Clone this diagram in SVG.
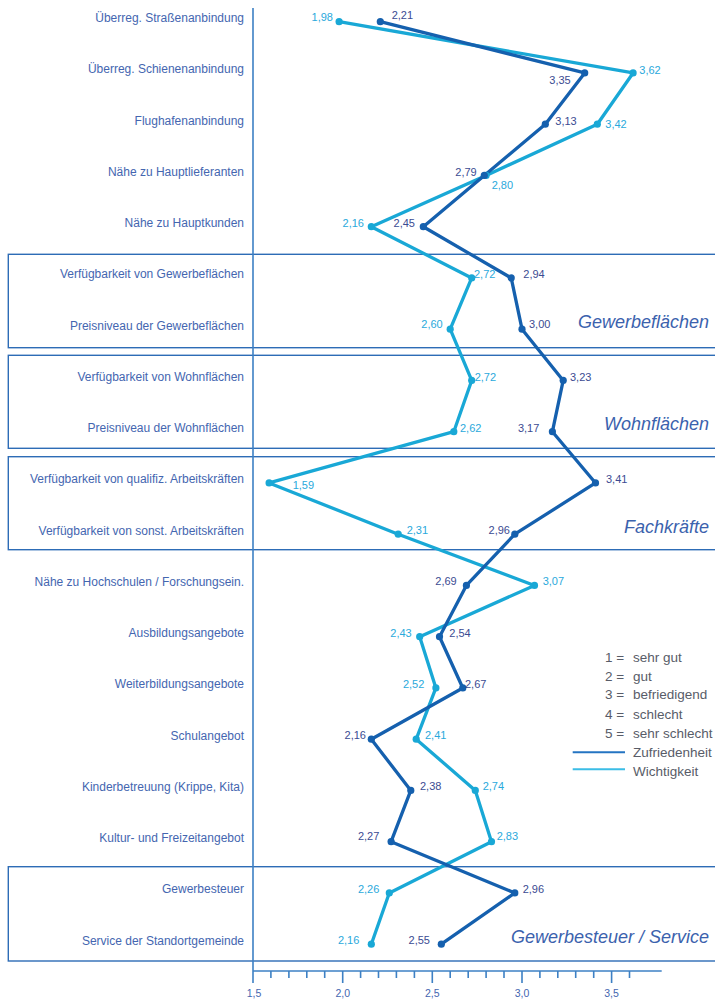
<svg xmlns="http://www.w3.org/2000/svg" width="715" height="1000" viewBox="0 0 715 1000">
<style>
.lbl{font-family:"Liberation Sans",Arial,sans-serif;font-size:12px;fill:#4466b0;text-anchor:end}
.zv{font-family:"Liberation Sans",Arial,sans-serif;font-size:11px;fill:#3b4b92}
.wv{font-family:"Liberation Sans",Arial,sans-serif;font-size:11px;fill:#2aa9dc}
.e{text-anchor:end}
.grp{font-family:"Liberation Sans",Arial,sans-serif;font-size:18px;font-style:italic;fill:#3b62ad;text-anchor:end}
.box{fill:none;stroke:#2d6cb6;stroke-width:1.4}
.leg{font-family:"Liberation Sans",Arial,sans-serif;font-size:13.5px;fill:#585c68}
.tick{font-family:"Liberation Sans",Arial,sans-serif;font-size:10.5px;fill:#4466b0;text-anchor:middle}
.zl{fill:none;stroke:#1560ae;stroke-width:3.3;stroke-linejoin:round}
.wl{fill:none;stroke:#19a8d6;stroke-width:3.3;stroke-linejoin:round}
.zd{fill:#1560ae}
.wd{fill:#19a8d6}
.ax{stroke:#3d80c4;stroke-width:1.6;fill:none}
</style>

<g id="group-boxes">
<rect class="box" x="8.3" y="254.3" width="720" height="93.4"/>
<rect class="box" x="8.3" y="355.3" width="720" height="93"/>
<rect class="box" x="8.3" y="456.7" width="720" height="93"/>
<rect class="box" x="8.3" y="866.7" width="720" height="94.3"/>
</g>

<g id="group-titles">
<text class="grp" x="709" y="328.3">Gewerbeflächen</text>
<text class="grp" x="709" y="430">Wohnflächen</text>
<text class="grp" x="709" y="532.7">Fachkräfte</text>
<text class="grp" x="709" y="942.7">Gewerbesteuer / Service</text>
</g>

<g id="axes">
<line class="ax" x1="253" y1="8" x2="253" y2="983"/>
<line class="ax" x1="253" y1="971" x2="661.7" y2="971"/>
<path class="ax" d="M270.9 971v7M288.9 971v7M306.8 971v7M324.7 971v7M342.7 971v12M360.6 971v7M378.5 971v7M396.4 971v7M414.4 971v7M432.3 971v12M450.2 971v7M468.2 971v7M486.1 971v7M504.0 971v7M522.0 971v12M539.9 971v7M557.8 971v7M575.7 971v7M593.7 971v7M611.6 971v12M629.5 971v7"/>
<text class="tick" x="254" y="996.5">1,5</text>
<text class="tick" x="342.7" y="996.5">2,0</text>
<text class="tick" x="432.3" y="996.5">2,5</text>
<text class="tick" x="522" y="996.5">3,0</text>
<text class="tick" x="611.6" y="996.5">3,5</text>
</g>

<g id="row-labels">
<text id="r0" class="lbl" x="244" y="22">Überreg. Straßenanbindung</text>
<text id="r1" class="lbl" x="244" y="73.2">Überreg. Schienenanbindung</text>
<text id="r2" class="lbl" x="244" y="124.5">Flughafenanbindung</text>
<text id="r3" class="lbl" x="244" y="175.7">Nähe zu Hauptlieferanten</text>
<text id="r4" class="lbl" x="244" y="227">Nähe zu Hauptkunden</text>
<text id="r5" class="lbl" x="244" y="278.2">Verfügbarkeit von Gewerbeflächen</text>
<text id="r6" class="lbl" x="244" y="329.5">Preisniveau der Gewerbeflächen</text>
<text id="r7" class="lbl" x="244" y="380.7">Verfügbarkeit von Wohnflächen</text>
<text id="r8" class="lbl" x="244" y="432">Preisniveau der Wohnflächen</text>
<text id="r9" class="lbl" x="244" y="483.2">Verfügbarkeit von qualifiz. Arbeitskräften</text>
<text id="r10" class="lbl" x="244" y="534.5">Verfügbarkeit von sonst. Arbeitskräften</text>
<text id="r11" class="lbl" x="244" y="585.7">Nähe zu Hochschulen / Forschungsein.</text>
<text id="r12" class="lbl" x="244" y="637">Ausbildungsangebote</text>
<text id="r13" class="lbl" x="244" y="688.2">Weiterbildungsangebote</text>
<text id="r14" class="lbl" x="244" y="739.5">Schulangebot</text>
<text id="r15" class="lbl" x="244" y="790.7">Kinderbetreuung (Krippe, Kita)</text>
<text id="r16" class="lbl" x="244" y="842">Kultur- und Freizeitangebot</text>
<text id="r17" class="lbl" x="244" y="893.2">Gewerbesteuer</text>
<text id="r18" class="lbl" x="244" y="944.5">Service der Standortgemeinde</text>
</g>

<g id="connectors">
<polyline id="wichtigkeit-line" class="wl" points="339.1,21.7 633.1,72.95 597.3,124.2 486.1,175.45 371.3,226.7 471.7,277.95 450.2,329.2 471.7,380.45 453.8,431.7 269.1,482.95 398.2,534.2 534.5,585.45 419.7,636.7 435.9,687.95 416.2,739.2 475.3,790.45 491.5,841.7 389.3,892.95 371.3,944.2"/>
<polyline id="zufriedenheit-line" class="zl" points="380.3,21.7 584.7,72.95 545.3,124.2 484.3,175.45 423.3,226.7 511.2,277.95 522,329.2 563.2,380.45 552.4,431.7 595.5,482.95 514.8,534.2 466.4,585.45 439.5,636.7 462.8,687.95 371.3,739.2 410.8,790.45 391.1,841.7 514.8,892.95 441.3,944.2"/>
</g>

<g id="wichtigkeit-points">
<circle class="wd" cx="339.1" cy="21.7" r="3.6"/>
<circle class="wd" cx="633.1" cy="72.95" r="3.6"/>
<circle class="wd" cx="597.3" cy="124.2" r="3.6"/>
<circle class="wd" cx="486.1" cy="175.45" r="3.6"/>
<circle class="wd" cx="371.3" cy="226.7" r="3.6"/>
<circle class="wd" cx="471.7" cy="277.95" r="3.6"/>
<circle class="wd" cx="450.2" cy="329.2" r="3.6"/>
<circle class="wd" cx="471.7" cy="380.45" r="3.6"/>
<circle class="wd" cx="453.8" cy="431.7" r="3.6"/>
<circle class="wd" cx="269.1" cy="482.95" r="3.6"/>
<circle class="wd" cx="398.2" cy="534.2" r="3.6"/>
<circle class="wd" cx="534.5" cy="585.45" r="3.6"/>
<circle class="wd" cx="419.7" cy="636.7" r="3.6"/>
<circle class="wd" cx="435.9" cy="687.95" r="3.6"/>
<circle class="wd" cx="416.2" cy="739.2" r="3.6"/>
<circle class="wd" cx="475.3" cy="790.45" r="3.6"/>
<circle class="wd" cx="491.5" cy="841.7" r="3.6"/>
<circle class="wd" cx="389.3" cy="892.95" r="3.6"/>
<circle class="wd" cx="371.3" cy="944.2" r="3.6"/>
</g>

<g id="zufriedenheit-points">
<circle class="zd" cx="380.3" cy="21.7" r="3.6"/>
<circle class="zd" cx="584.7" cy="72.95" r="3.6"/>
<circle class="zd" cx="545.3" cy="124.2" r="3.6"/>
<circle class="zd" cx="484.3" cy="175.45" r="3.6"/>
<circle class="zd" cx="423.3" cy="226.7" r="3.6"/>
<circle class="zd" cx="511.2" cy="277.95" r="3.6"/>
<circle class="zd" cx="522" cy="329.2" r="3.6"/>
<circle class="zd" cx="563.2" cy="380.45" r="3.6"/>
<circle class="zd" cx="552.4" cy="431.7" r="3.6"/>
<circle class="zd" cx="595.5" cy="482.95" r="3.6"/>
<circle class="zd" cx="514.8" cy="534.2" r="3.6"/>
<circle class="zd" cx="466.4" cy="585.45" r="3.6"/>
<circle class="zd" cx="439.5" cy="636.7" r="3.6"/>
<circle class="zd" cx="462.8" cy="687.95" r="3.6"/>
<circle class="zd" cx="371.3" cy="739.2" r="3.6"/>
<circle class="zd" cx="410.8" cy="790.45" r="3.6"/>
<circle class="zd" cx="391.1" cy="841.7" r="3.6"/>
<circle class="zd" cx="514.8" cy="892.95" r="3.6"/>
<circle class="zd" cx="441.3" cy="944.2" r="3.6"/>
</g>

<g id="wichtigkeit-values">
<text class="wv e" x="333" y="21">1,98</text>
<text class="wv" x="639.3" y="74">3,62</text>
<text class="wv" x="605.3" y="127.5">3,42</text>
<text class="wv" x="491.7" y="189">2,80</text>
<text class="wv e" x="364" y="226.5">2,16</text>
<text class="wv" x="474" y="277.5">2,72</text>
<text class="wv e" x="442.7" y="328">2,60</text>
<text class="wv" x="474.7" y="381">2,72</text>
<text class="wv" x="460" y="431.5">2,62</text>
<text class="wv" x="292.7" y="488.5">1,59</text>
<text class="wv" x="406.7" y="533.5">2,31</text>
<text class="wv" x="542.7" y="585">3,07</text>
<text class="wv e" x="411.7" y="636.5">2,43</text>
<text class="wv e" x="424.3" y="688">2,52</text>
<text class="wv" x="425" y="738.5">2,41</text>
<text class="wv" x="482.7" y="790">2,74</text>
<text class="wv" x="496.7" y="840">2,83</text>
<text class="wv e" x="379.3" y="892.5">2,26</text>
<text class="wv e" x="359.3" y="943.5">2,16</text>
</g>

<g id="zufriedenheit-values">
<text class="zv" x="391.7" y="19">2,21</text>
<text class="zv e" x="570.7" y="84">3,35</text>
<text class="zv" x="555.3" y="125">3,13</text>
<text class="zv e" x="476.7" y="176">2,79</text>
<text class="zv e" x="415" y="226.5">2,45</text>
<text class="zv" x="523.3" y="277.5">2,94</text>
<text class="zv" x="529" y="328">3,00</text>
<text class="zv" x="570" y="381">3,23</text>
<text class="zv e" x="539.3" y="431.5">3,17</text>
<text class="zv" x="606" y="482.5">3,41</text>
<text class="zv e" x="510" y="533.5">2,96</text>
<text class="zv e" x="456.7" y="585">2,69</text>
<text class="zv" x="449.3" y="636.5">2,54</text>
<text class="zv" x="465" y="688">2,67</text>
<text class="zv e" x="366" y="738.5">2,16</text>
<text class="zv" x="420" y="790">2,38</text>
<text class="zv e" x="379.3" y="840">2,27</text>
<text class="zv" x="522.7" y="892.5">2,96</text>
<text class="zv e" x="430" y="943.5">2,55</text>
</g>

<g id="legend">
<text class="leg" y="661.5"><tspan x="605">1 =</tspan><tspan x="633">sehr gut</tspan></text>
<text class="leg" y="680.5"><tspan x="605">2 =</tspan><tspan x="633">gut</tspan></text>
<text class="leg" y="699"><tspan x="605">3 =</tspan><tspan x="633">befriedigend</tspan></text>
<text class="leg" y="718.5"><tspan x="605">4 =</tspan><tspan x="633">schlecht</tspan></text>
<text class="leg" y="737.5"><tspan x="605">5 =</tspan><tspan x="633">sehr schlecht</tspan></text>
<line x1="572.7" y1="752.3" x2="625" y2="752.3" stroke="#2474c2" stroke-width="2"/>
<text class="leg" x="633" y="757">Zufriedenheit</text>
<line x1="572.7" y1="769.3" x2="625" y2="769.3" stroke="#3bbde6" stroke-width="2"/>
<text class="leg" x="633" y="775.5">Wichtigkeit</text>
</g>
</svg>
